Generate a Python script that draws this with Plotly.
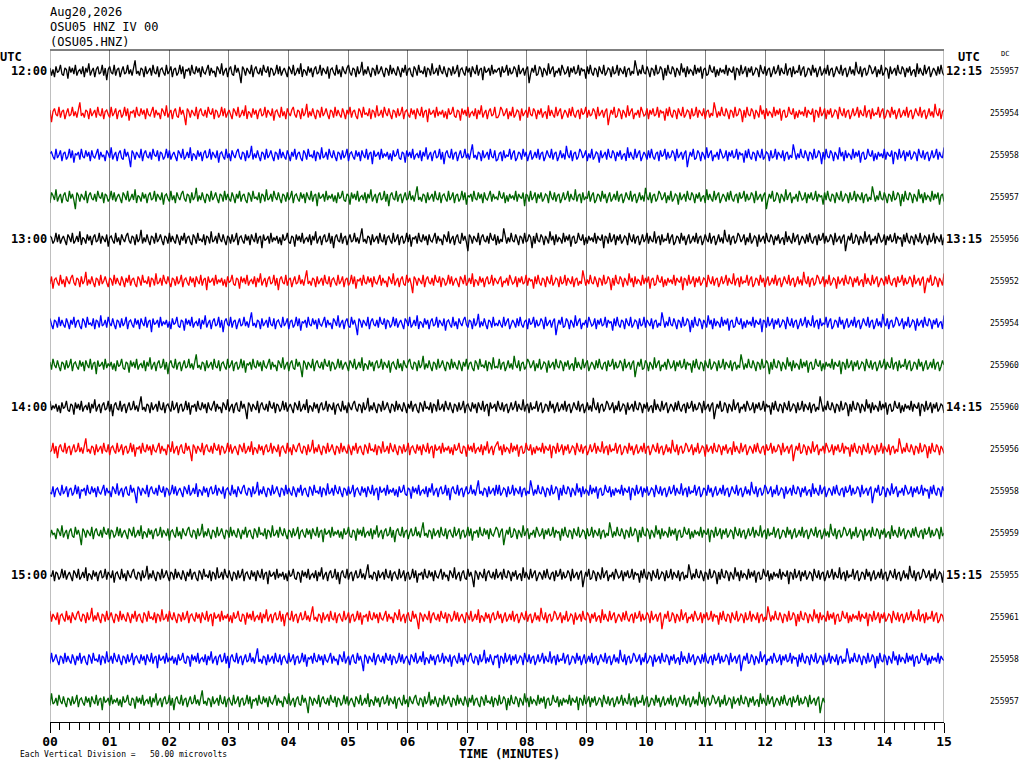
import plotly.graph_objects as go

# helicorder for OSU05 HNZ IV 00, 15 minutes per line
hour_labels_left = ["12:00", "13:00", "14:00", "15:00"]
hour_labels_right = ["12:15", "13:15", "14:15", "15:15"]
dc_values = [255957, 255954, 255958, 255957, 255956, 255952, 255954, 255960,
             255960, 255956, 255958, 255959, 255955, 255961, 255958, 255957]
line_colors = ["black", "red", "blue", "#006400"]
minutes = list(range(16))
tick_text = ["%02d" % m for m in minutes]
last_line_end = 13.0   # minutes of data in the last (partial) line

# trace wiggle, counts about the DC level
noise = [
    2, -3, 1, -4, 3, -1, 0, 4, -2, -3, 2, 1, -5, 3, -1, 2, -2, 4, -3, 0,
    1, -2, 3, -4, 2, -1, 5, -3, 0, 2, -4, 1, 3, -2, -1, 4, -3, 2, -6, 1,
    3, -1, -2, 4, -3, 1, 2, -4, 0, 3, -2, -1, 4, -2, 1, -3, 2, 7, -2, 0,
    -3, 2, 1, -4, 3, -2, 0, 2, -3, 4, -1, -2, 3, -4, 1, 2, -1, -3, 4, -2,
    0, 3, -4, 1, 2, -3, -1, 4, -2, 3, -5, 1, 0, 2, -3, 4, -1, -2, 3, -1,
    2, -4, 3, -1, -2, 1, 4, -3, 2, -1, 0, -4, 3, 1, -2, 5, -3, 0, 2, -4,
    1, 3, -2, -3, 4, -1, 2, -2, -8, 3, 1, -3, 2, 0, -2, 4, -4, 1, 3, -1,
    -2, 2, -3, 4, 0, -1, 3, -4, 2, 1, -3, -1, 4, -2, 3, -3, 0, 2, -1, -4,
    3, 1, -2, 4, -3, -1, 2, -2, 5, -4, 1, 0, -3, 3, -1, 2, -4, 1, 3, -2,
    -1, 4, -3, 2, 0, -2, 3, -5, 1, 2, -1, -3, 4, -2, 1, -4, 3, 0, -2, 2,
    4, -1, -3, 2, 1, -4, 3, -2, 0, 6, -3, 1, -2, 3, -1, -4, 2, 1, -3, 4,
    -2, 0, 3, -1, -4, 2, 1, -3, 4, -2, 2, -1, -3, 3, 0, -4, 2, -1, 4, -3,
    1, 2, -2, -4, 3, 1, -3, 4, -1, 0, -2, 3, -4, 2, 1, -3, 5, -2, -1, 2,
    -3, 4, 0, -2, 3, -1, -4, 2, 1, -3, 3, -2, 0, 4, -4, 1, 2, -1, -3, 3,
    -1, 2, -4, 3, 0, -2, 4, -3, 1, 2, -6, 3, -1, 0, 2, -3, 4, -2, 1, -1,
]

AMP = 0.036  # line spacing units per count
n = len(noise)

fig = go.Figure()
for i, dc in enumerate(dc_values):
    k1 = (i * 37) % n
    k2 = (i * 53 + 150) % n
    vals = noise[k1:] + noise[:k1] + (noise[k2:] + noise[:k2])[::-1]
    m = len(vals)
    xs = [j * 15.0 / (m - 1) for j in range(m)]
    if i == len(dc_values) - 1:
        cut = [j for j, x in enumerate(xs) if x <= last_line_end]
        xs = [xs[j] for j in cut]
        vals = [vals[j] for j in cut]
    ys = [i - v * AMP for v in vals]
    fig.add_trace(go.Scatter(x=xs, y=ys, mode="lines",
                             line=dict(color=line_colors[i % 4], width=1.3, simplify=False),
                             hoverinfo="skip", showlegend=False))

mono = "DejaVu Sans Mono"
L, R, T, B = 50, 944, 50, 722

ann = []
for h, lab in enumerate(hour_labels_left):
    ann.append(dict(x=0, xref="paper", y=h * 4, yref="y", text="<b>%s</b>" % lab,
                    xanchor="right", xshift=-1, showarrow=False,
                    font=dict(family=mono, size=12, color="black")))
for h, lab in enumerate(hour_labels_right):
    ann.append(dict(x=1, xref="paper", y=h * 4, yref="y", text="<b>%s</b>" % lab,
                    xanchor="left", xshift=0, showarrow=False,
                    font=dict(family=mono, size=12, color="black")))
for i, dc in enumerate(dc_values):
    ann.append(dict(x=(1005 - L) / (R - L), xref="paper", y=i, yref="y", text=str(dc),
                    showarrow=False, xanchor="center",
                    font=dict(family=mono, size=8, color="black")))


def place(px, py, text, size, anchor="left", bold=False):
    t = "<b>%s</b>" % text if bold else text
    ann.append(dict(x=(px - L) / (R - L), y=(B - py) / (B - T), xref="paper", yref="paper",
                    text=t, showarrow=False, xanchor=anchor, yanchor="middle",
                    font=dict(family=mono, size=size, color="black")))


place(48, 12, "Aug20,2026", 12)
place(48, 27, "OSU05 HNZ IV 00", 12)
place(48, 42, "(OSU05.HNZ)", 12)
place(-2, 57, "UTC", 12, bold=True)
place(956, 57, "UTC", 12, bold=True)
place(1005, 54, "DC", 7, anchor="center")
place(509, 754, "TIME (MINUTES)", 12, anchor="center", bold=True)
place(18, 754, "Each Vertical Division =\u00a0\u00a0\u00a050.00 microvolts", 8)

shapes = [
    dict(type="line", xref="x", yref="paper", x0=0, x1=15, y0=1, y1=1,
         line=dict(color="black", width=1)),
    dict(type="line", xref="x", yref="paper", x0=0, x1=0, y0=0, y1=1,
         line=dict(color="gray", width=1)),
    dict(type="line", xref="x", yref="paper", x0=15, x1=15, y0=0, y1=1,
         line=dict(color="gray", width=1)),
]

fig.update_layout(
    width=1024, height=768, autosize=False,
    margin=dict(l=L, r=1024 - R, t=T, b=768 - B, pad=0),
    paper_bgcolor="white", plot_bgcolor="white",
    annotations=ann, shapes=shapes,
    xaxis=dict(range=[0, 15], tickvals=minutes, ticktext=tick_text,
               showgrid=True, gridcolor="gray", gridwidth=1, zeroline=False,
               showline=True, linecolor="black", linewidth=1,
               ticks="outside", ticklen=10, tickcolor="black",
               minor=dict(dtick=1 / 6.0, ticks="outside", ticklen=7,
                          tickcolor="black", showgrid=False),
               tickfont=dict(family=mono, size=13, color="black", weight="bold"),
               ticklabelstandoff=-3, fixedrange=True),
    yaxis=dict(range=[15.5, -0.5], visible=False, fixedrange=True),
)
fig.write_html("out.html", config={"displayModeBar": False},
               post_script="document.body.style.margin='0';")
